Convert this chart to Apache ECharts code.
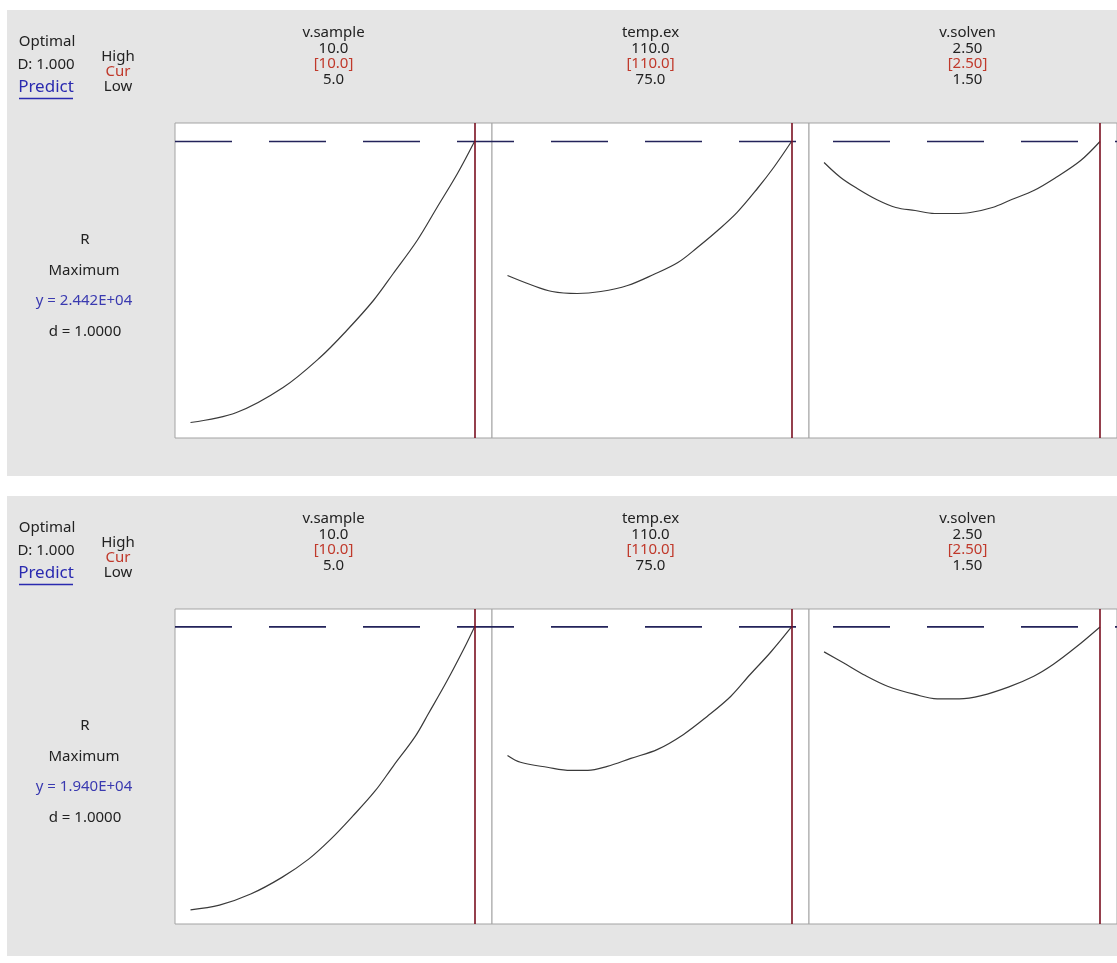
<!DOCTYPE html>
<html><head><meta charset="utf-8">
<script src="https://cdn.jsdelivr.net/npm/echarts@6/dist/echarts.min.js"></script>
<style>html,body{margin:0;padding:0;background:#fff}#c{width:1117px;height:963px}</style>
</head><body><div id="c"></div>
<script>
// ---------- data ----------
const factorNames = ['v.sample', 'temp.ex', 'v.solven'];
const highLabels = ['10.0', '110.0', '2.50'];
const curLabels = ['[10.0]', '[110.0]', '[2.50]'];
const lowLabels = ['5.0', '75.0', '1.50'];
const lowValues = [5, 75, 1.5];
const highValues = [10, 110, 2.5];
const curValues = [10, 110, 2.5];

const responseName = 'R';
const goalName = 'Maximum';
const compositeD = 'D: 1.000';
const dText = 'd = 1.0000';
const yTexts = ['y = 2.442E+04', 'y = 1.940E+04'];
const yCurrent = [24420, 19400];
const yAxisRanges = [[700, 25900], [350, 20550]];

// top chart curves
const top_vsample_x = [5.0, 5.81, 6.63, 7.28, 7.75, 8.22, 8.57, 8.99, 9.34, 9.70, 10.0];
const top_vsample_y = [1940, 2740, 4740, 7140, 9300, 11700, 13860, 16500, 19140, 21860, 24420];
const top_tempex_x = [75.0, 77.8, 80.5, 83.6, 86.5, 89.8, 93.0, 96.0, 98.4, 100.9, 103.3, 105.8, 107.8, 110.0];
const top_tempex_y = [13700, 12980, 12420, 12260, 12420, 12900, 13780, 14740, 15940, 17300, 18750, 20660, 22340, 24420];
const top_vsolven_x = [1.50, 1.56, 1.62, 1.69, 1.76, 1.83, 1.90, 1.97, 2.03, 2.11, 2.18, 2.26, 2.34, 2.43, 2.50];
const top_vsolven_y = [22740, 21540, 20660, 19780, 19140, 18900, 18660, 18660, 18740, 19140, 19780, 20500, 21540, 22900, 24420];
// bottom chart curves
const bot_vsample_x = [5.0, 5.51, 6.06, 6.61, 7.08, 7.47, 7.86, 8.25, 8.57, 8.96, 9.19, 9.51, 9.82, 10.0];
const bot_vsample_y = [1260, 1560, 2270, 3340, 4510, 5790, 7280, 8880, 10480, 12400, 13850, 15900, 18050, 19400];
const bot_tempex_x = [75.0, 76.6, 79.9, 82.8, 84.9, 87.3, 90.2, 93.5, 96.7, 99.6, 102.5, 104.9, 107.4, 110.0];
const bot_tempex_y = [11160, 10720, 10400, 10200, 10200, 10460, 10970, 11550, 12510, 13660, 14940, 16350, 17760, 19400];
const bot_vsolven_x = [1.50, 1.57, 1.65, 1.73, 1.83, 1.91, 1.99, 2.07, 2.17, 2.26, 2.33, 2.41, 2.50];
const bot_vsolven_y = [17800, 17100, 16280, 15600, 15070, 14790, 14790, 15000, 15560, 16240, 16990, 18060, 19400];

const curves = [
  [[top_vsample_x, top_vsample_y], [top_tempex_x, top_tempex_y], [top_vsolven_x, top_vsolven_y]],
  [[bot_vsample_x, bot_vsample_y], [bot_tempex_x, bot_tempex_y], [bot_vsolven_x, bot_vsolven_y]]
];

// ---------- layout ----------
const FONT = 'Noto Sans';
const FS = 15;
const panelLefts = [175, 492, 809];
const panelW = 317;
const blockOffsets = [0, 486];
const blockHeights = [466, 460];
const plotTop = 123, plotH = 315;
const padL = 15.5 / 284, padR = 17.5 / 284;

const grids = [], xAxes = [], yAxes = [], series = [], graphics = [];

function zip(a, b) { return a.map((v, i) => [v, b[i]]); }

blockOffsets.forEach((off, b) => {
  graphics.push({ type: 'rect', shape: { x: 7, y: 10 + off, width: 1110, height: blockHeights[b] }, style: { fill: '#e5e5e5' }, z: -10 });
  for (let i = 0; i < 3; i++) {
    const gi = grids.length;
    grids.push({ left: panelLefts[i], top: plotTop + off, width: panelW, height: plotH, show: true,
      backgroundColor: '#ffffff', borderColor: '#a3a3a3', borderWidth: 1, containLabel: false });
    const r = highValues[i] - lowValues[i];
    xAxes.push({ type: 'value', gridIndex: gi, min: lowValues[i] - r * padL, max: highValues[i] + r * padR, show: false });
    yAxes.push({ type: 'value', gridIndex: gi, min: yAxisRanges[b][0], max: yAxisRanges[b][1], show: false });
    series.push({ type: 'line', xAxisIndex: gi, yAxisIndex: gi, data: zip(curves[b][i][0], curves[b][i][1]),
      smooth: 0.35, symbol: 'none', lineStyle: { color: '#3a3a3a', width: 1.2 }, z: 3,
      markLine: { silent: true, symbol: ['none', 'none'], label: { show: false },
        lineStyle: { color: '#7a1020', width: 1.6, type: 'solid' }, data: [{ xAxis: curValues[i] }] } });
    const cx = panelLefts[i] + panelW / 2;
    const hy = 33 + off;
    const ht = (txt, y, color) => graphics.push({ type: 'text', x: cx, y: y, style: { text: txt, fill: color, font: FS + 'px ' + FONT, textAlign: 'center', textVerticalAlign: 'middle' } });
    ht(factorNames[i], hy, '#222');
    ht(highLabels[i], hy + 15.5, '#222');
    ht(curLabels[i], hy + 31, '#c0392b');
    ht(lowLabels[i], hy + 46.5, '#222');
  }
  // dashed target line overlay
  const gi = grids.length;
  grids.push({ left: 175, top: plotTop + off, width: 951, height: plotH, show: false });
  xAxes.push({ type: 'value', gridIndex: gi, min: 0, max: 1, show: false });
  yAxes.push({ type: 'value', gridIndex: gi, min: yAxisRanges[b][0], max: yAxisRanges[b][1], show: false });
  series.push({ type: 'line', xAxisIndex: gi, yAxisIndex: gi, data: [[0, yCurrent[b]], [1, yCurrent[b]]],
    symbol: 'none', lineStyle: { color: '#23235a', width: 1.7, type: [57, 37] }, z: 4 });

  // left texts
  const t = (txt, x, y, color, size) => graphics.push({ type: 'text', x: x, y: y + off,
    style: { text: txt, fill: color, font: (size || FS) + 'px ' + FONT, textAlign: 'center', textVerticalAlign: 'middle' } });
  t('Optimal', 47, 42, '#222');
  t(compositeD, 46, 65, '#222');
  t('Predict', 46, 87, '#2a2ab0', 17);
  graphics.push({ type: 'line', shape: { x1: 19, y1: 98.5 + off, x2: 73, y2: 98.5 + off }, style: { stroke: '#2a2ab0', lineWidth: 1.3 } });
  t('High', 118, 57, '#222');
  t('Cur', 118, 72, '#c0392b');
  t('Low', 118, 87, '#222');
  t(responseName, 85, 240, '#222');
  t(goalName, 84, 271, '#222');
  t(yTexts[b], 84, 301, '#3a3ab0');
  t(dText, 85, 332, '#222');
});

const chart = echarts.init(document.getElementById('c'));
chart.setOption({
  animation: false,
  backgroundColor: '#ffffff',
  grid: grids, xAxis: xAxes, yAxis: yAxes, series: series,
  graphic: graphics
});
</script></body></html>
